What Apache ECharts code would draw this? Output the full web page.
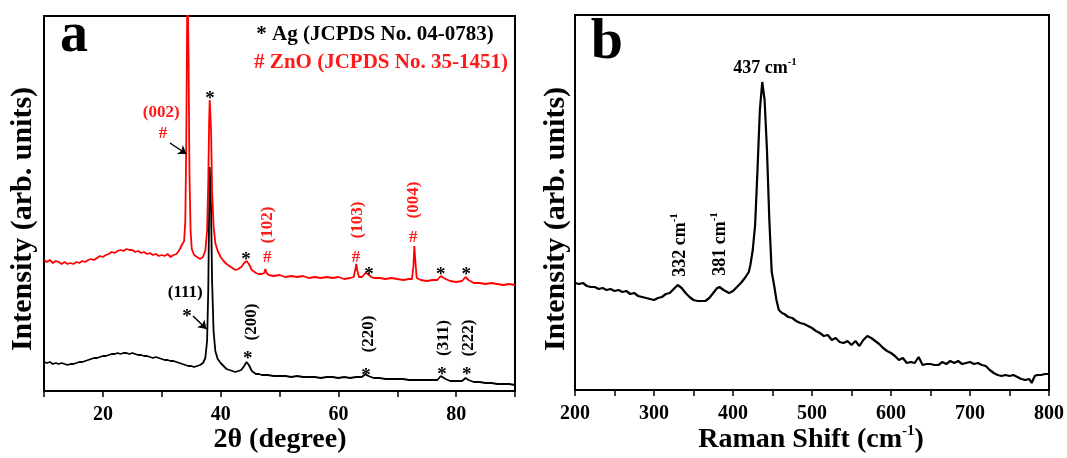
<!DOCTYPE html>
<html><head><meta charset="utf-8">
<script src="https://cdn.jsdelivr.net/npm/echarts@6/dist/echarts.min.js"></script>
<style>html,body{margin:0;padding:0;background:#fff}#c{width:1067px;height:458px}</style>
</head><body><div id="c"></div>
<script>
// ---- Data (intensities in arbitrary units) ----
const xrdXTicks = [20, 40, 60, 80];
const ramanXTicks = [200, 300, 400, 500, 600, 700, 800];

const xrdZnO = [[10,131],[10.5,129],[11,131],[11.5,128],[12,130],[12.5,129],[13,127],[13.5,129],[14,127],[14.5,128],[15,127],[15.5,129],[16,128],[16.5,130],[17,129],[17.5,131],[18,132],[18.5,131],[19,133],[19.5,135],[20,134],[20.5,136],[21,137],[21.5,139],[22,138],[22.5,140],[23,141],[23.5,140],[24,142],[24.5,141],[25,141],[25.5,139],[26,140],[26.5,138],[27,139],[27.5,137],[28,138],[28.5,136],[29,137],[29.5,135],[30,136],[30.5,135],[31,137],[31.5,134],[32,136],[32.5,137],[33,141],[33.4,146],[33.8,150],[34.0,170],[34.15,240],[34.28,340],[34.36,420],[34.46,420],[34.56,330],[34.7,220],[34.9,160],[35.1,142],[35.5,136],[36,134],[36.5,132],[37,134],[37.4,140],[37.7,160],[37.9,210],[38.05,270],[38.15,291],[38.25,291],[38.38,260],[38.55,200],[38.8,165],[39.1,148],[39.5,140],[40,134],[40.5,130],[41,127],[41.5,125],[42,123],[42.5,121],[43,122],[43.5,124],[44,128],[44.4,130],[44.8,127],[45.3,121],[46,118],[46.5,117],[47,117],[47.4,118],[47.6,122],[47.8,118],[48.2,116],[49,115],[50,116],[51,114],[52,115],[53,114],[54,115],[55,113],[56,114],[57,113],[58,114],[59,113],[60,114],[61,112],[62,113],[62.6,114],[62.9,122],[63.05,127],[63.2,121],[63.5,114],[64,114],[64.6,118],[65,117],[65.6,114],[66,113],[67,113],[68,112],[69,113],[70,112],[71,111],[72,112],[72.5,112],[72.75,125],[72.9,145],[73.05,132],[73.3,113],[74,111],[75,110],[76,111],[76.8,111],[77.4,115],[77.7,116],[78.2,112],[79,110],[80,109],[81,110],[81.6,114],[82.1,111],[83,108],[84,108],[85,107],[86,108],[87,107],[88,106],[89,107],[90,106]];

const xrdAg = [[10,29],[10.5,28],[11,29],[11.5,27],[12,28],[12.5,27],[13,28],[13.5,27],[14,26],[14.5,27],[15,27],[15.5,28],[16,29],[16.5,29],[17,30],[17.5,31],[18,32],[18.5,33],[19,33],[19.5,34],[20,35],[20.5,35],[21,36],[21.5,37],[22,37],[22.5,38],[23,37],[23.5,38],[24,38],[24.5,37],[25,38],[25.5,37],[26,36],[26.5,36],[27,35],[27.5,35],[28,34],[28.5,33],[29,34],[29.5,33],[30,32],[30.5,31],[31,31],[31.5,30],[32,30],[32.5,29],[33,28],[33.5,27],[34,26],[34.5,25],[35,25],[35.5,24],[36,25],[36.5,26],[37,28],[37.4,33],[37.7,50],[37.9,100],[38.05,180],[38.15,224],[38.25,224],[38.38,180],[38.55,110],[38.8,60],[39.1,40],[39.5,32],[40,28],[40.5,25],[41,22],[41.5,21],[42,20],[42.5,19],[43,20],[43.5,21],[44,25],[44.4,29],[44.8,26],[45.3,20],[46,17],[46.5,17],[47,16],[48,16],[49,15],[50,15],[51,15],[52,14],[53,15],[54,14],[55,14],[56,14],[57,13],[58,14],[59,14],[60,13],[61,14],[62,13],[63,14],[64,14],[64.6,17],[65.1,15],[66,13],[67,13],[68,12],[69,12],[70,12],[71,12],[72,11],[73,11],[74,11],[75,11],[76,11],[76.8,11],[77.4,15],[77.7,16],[78.2,12],[79,10],[80,10],[81,10],[81.6,13],[82.1,11],[83,9],[84,9],[85,8],[86,8],[87,7],[88,7],[89,7],[90,6]];

const raman = [[200,107],[205,106],[210,107],[215,104],[220,103],[225,103],[230,101],[235,102],[240,100],[245,101],[250,99],[255,100],[260,98],[265,99],[270,96],[275,97],[280,94],[285,93],[290,92],[295,91],[300,90],[305,92],[310,93],[315,96],[320,97],[325,101],[330,105],[335,102],[340,97],[345,93],[350,90],[355,89],[360,89],[365,89],[370,92],[375,97],[380,102],[383,103],[388,100],[395,97],[400,99],[405,103],[410,107],[415,112],[420,118],[422,125],[425,140],[428,165],[431,220],[434,280],[437,308],[440,290],[443,240],[446,170],[449,118],[452,105],[455,90],[458,80],[462,77],[465,76],[470,73],[475,72],[480,69],[485,67],[490,66],[495,64],[500,62],[505,59],[510,57],[515,54],[520,55],[525,50],[530,52],[535,48],[540,47],[545,49],[550,45],[555,49],[560,44],[565,50],[570,54],[575,52],[580,49],[585,46],[590,42],[595,39],[600,37],[605,34],[610,30],[615,32],[620,27],[625,28],[630,27],[635,33],[640,25],[645,26],[650,26],[655,25],[660,25],[665,28],[670,26],[675,29],[680,27],[685,29],[690,26],[695,27],[700,28],[705,26],[710,27],[715,25],[720,24],[725,20],[730,17],[735,15],[740,14],[745,15],[750,14],[755,15],[760,13],[765,11],[770,10],[775,11],[778,7],[782,14],[785,15],[790,15],[795,16],[800,16]];

// Annotations in data coordinates: [x, y, text, colorKey, rotated]
const annXrd = [
  [29.9, 278, '(002)', 'r', 0],
  [30.2, 257, '#', 'r', 0],
  [38.2, 297, '*', 'k', 0],
  [44.3, 136, '*', 'k', 0],
  [47.9, 133, '#', 'r', 0],
  [48.0, 166, '(102)', 'r', 1],
  [63.0, 133, '#', 'r', 0],
  [63.2, 171, '(103)', 'r', 1],
  [65.2, 121, '*', 'k', 0],
  [72.7, 153, '#', 'r', 0],
  [72.7, 191, '(004)', 'r', 1],
  [77.4, 121, '*', 'k', 0],
  [81.7, 121, '*', 'k', 0],
  [34.0, 98, '(111)', 'k', 0],
  [34.3, 79, '*', 'k', 0],
  [44.6, 37, '*', 'k', 0],
  [45.3, 69, '(200)', 'k', 1],
  [64.7, 20, '*', 'k', 0],
  [65.2, 57, '(220)', 'k', 1],
  [77.6, 21, '*', 'k', 0],
  [77.9, 53, '(311)', 'k', 1],
  [81.8, 21, '*', 'k', 0],
  [82.2, 53, '(222)', 'k', 1]
];
const arrowsXrd = [
  [[31.4, 248], [34.2, 237]],
  [[35.3, 75], [37.6, 62]]
];
const annRaman = [
  [440.5, 322, '437', 0],
  [333, 145, '332', 1],
  [383.5, 146, '381', 1]
];

const FONT = '"Liberation Serif", "Times New Roman", serif';
const COL = { r: '#ff1a1a', k: '#000' };

const chart = echarts.init(document.getElementById('c'));

function xrdAnn(params, api) {
  const a = annXrd[params.dataIndex];
  const p = api.coord([a[0], a[1]]);
  const star = a[2] === '*';
  return {
    type: 'text', x: p[0], y: p[1] + (star ? 5 : 0), rotation: a[4] ? Math.PI / 2 : 0,
    style: { text: a[2], fill: COL[a[3]], font: 'bold ' + (star ? 19 : 17) + 'px ' + FONT, align: 'center', verticalAlign: 'middle' }
  };
}
function ramanAnn(params, api) {
  const a = annRaman[params.dataIndex];
  const p = api.coord([a[0], a[1]]);
  return {
    type: 'text', x: p[0], y: p[1], rotation: a[3] ? Math.PI / 2 : 0,
    style: {
      text: '{n|' + a[2] + ' cm}{s|-1}', align: 'center', verticalAlign: 'middle', fill: '#000',
      rich: {
        n: { fontFamily: FONT, fontWeight: 'bold', fontSize: 18, lineHeight: 22, fill: '#000' },
        s: { fontFamily: FONT, fontWeight: 'bold', fontSize: 11, lineHeight: 22, verticalAlign: 'top', fill: '#000' }
      }
    }
  };
}

const axisCommon = {
  axisLine: { show: true, lineStyle: { color: '#000', width: 2 } },
  axisTick: { show: true, inside: false, length: 6, lineStyle: { color: '#000', width: 1.5 } },
  splitLine: { show: false }
};
const tickFont = { color: '#000', fontFamily: FONT, fontWeight: 'bold', fontSize: 20, margin: 14 };
const C = { align: 'center', verticalAlign: 'middle', textAlign: 'center', textVerticalAlign: 'middle' };

chart.setOption({
  animation: false,
  backgroundColor: '#fff',
  grid: [
    { left: 44, top: 16, width: 471, height: 375, show: true, borderColor: '#000', borderWidth: 2 },
    { left: 575, top: 15, width: 474, height: 375, show: true, borderColor: '#000', borderWidth: 2 }
  ],
  xAxis: [
    Object.assign({ type: 'value', gridIndex: 0, min: 10, max: 90, interval: 10,
      axisLabel: Object.assign({ formatter: v => xrdXTicks.indexOf(v) >= 0 ? String(v) : '' }, tickFont) }, axisCommon),
    Object.assign({ type: 'value', gridIndex: 1, min: 200, max: 800, interval: 50,
      axisLabel: Object.assign({ formatter: v => ramanXTicks.indexOf(v) >= 0 ? String(v) : '' }, tickFont) }, axisCommon)
  ],
  yAxis: [
    { type: 'value', gridIndex: 0, min: 0, max: 375, axisLine: { show: false }, axisTick: { show: false }, axisLabel: { show: false }, splitLine: { show: false } },
    { type: 'value', gridIndex: 1, min: 0, max: 375, axisLine: { show: false }, axisTick: { show: false }, axisLabel: { show: false }, splitLine: { show: false } }
  ],
  series: [
    { type: 'line', xAxisIndex: 0, yAxisIndex: 0, data: xrdAg, showSymbol: false, symbol: 'none',
      lineStyle: { color: '#000', width: 1.8 }, clip: true, z: 2,
      markLine: { silent: true, symbol: ['none', 'arrow'], symbolSize: 8, label: { show: false },
        lineStyle: { color: '#000', width: 1.5, type: 'solid' },
        data: [[{ coord: arrowsXrd[1][0] }, { coord: arrowsXrd[1][1] }]] } },
    { type: 'line', xAxisIndex: 0, yAxisIndex: 0, data: xrdZnO, showSymbol: false, symbol: 'none',
      lineStyle: { color: '#ff0000', width: 1.8 }, clip: true, z: 3,
      markLine: { silent: true, symbol: ['none', 'arrow'], symbolSize: 8, label: { show: false },
        lineStyle: { color: '#000', width: 1.5, type: 'solid' },
        data: [[{ coord: arrowsXrd[0][0] }, { coord: arrowsXrd[0][1] }]] } },
    { type: 'line', xAxisIndex: 1, yAxisIndex: 1, data: raman, showSymbol: false, symbol: 'none',
      lineStyle: { color: '#000', width: 2.2 }, clip: true },
    { type: 'custom', xAxisIndex: 0, yAxisIndex: 0, data: annXrd.map(a => [a[0], a[1]]), renderItem: xrdAnn, clip: false, silent: true, z: 5 },
    { type: 'custom', xAxisIndex: 1, yAxisIndex: 1, data: annRaman.map(a => [a[0], a[1]]), renderItem: ramanAnn, clip: false, silent: true, z: 5 }
  ],
  graphic: [
    { type: 'text', x: 74, y: 37, style: Object.assign({ text: 'a', font: 'bold 56px ' + FONT, fill: '#000' }, C) },
    { type: 'text', x: 607, y: 43, style: Object.assign({ text: 'b', font: 'bold 58px ' + FONT, fill: '#000' }, C) },
    { type: 'text', x: 375, y: 35, style: Object.assign({ text: '* Ag (JCPDS No. 04-0783)', font: 'bold 21px ' + FONT, fill: '#000' }, C) },
    { type: 'text', x: 381, y: 63, style: Object.assign({ text: '# ZnO (JCPDS No. 35-1451)', font: 'bold 21px ' + FONT, fill: '#ff1a1a' }, C) },
    { type: 'text', x: 23, y: 219, rotation: Math.PI / 2, style: Object.assign({ text: 'Intensity (arb. units)', font: 'bold 30px ' + FONT, fill: '#000' }, C) },
    { type: 'text', x: 556, y: 219, rotation: Math.PI / 2, style: Object.assign({ text: 'Intensity (arb. units)', font: 'bold 30px ' + FONT, fill: '#000' }, C) },
    { type: 'text', x: 280, y: 440, style: Object.assign({ text: '2θ (degree)', font: 'bold 28px ' + FONT, fill: '#000' }, C) },
    { type: 'text', x: 811, y: 440, style: Object.assign({ text: '{a|Raman Shift (cm}{b|-1}{a|)}',
        rich: { a: { fontFamily: FONT, fontWeight: 'bold', fontSize: 28, lineHeight: 32, fill: '#000' },
                b: { fontFamily: FONT, fontWeight: 'bold', fontSize: 15, lineHeight: 32, verticalAlign: 'top', fill: '#000' } } }, C) }
  ]
});
</script></body></html>
